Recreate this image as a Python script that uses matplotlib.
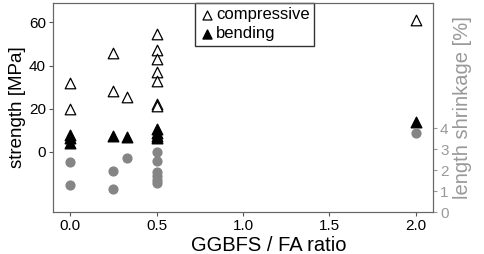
import matplotlib.pyplot as plt

plt.rcParams['font.family'] = ['Liberation Sans', 'DejaVu Sans']

# compressive strength [MPa] vs GGBFS / FA ratio
comp_x = [0.0, 0.0, 0.25, 0.25, 0.33, 0.5, 0.5, 0.5, 0.5, 0.5, 0.5, 0.5, 2.0]
comp_y = [32, 20, 46, 28, 25.5, 54.5, 47, 43, 37, 33, 22, 21, 61]

# bending strength [MPa]
bend_x = [0.0, 0.0, 0.0, 0.25, 0.33, 0.5, 0.5, 0.5, 0.5, 2.0]
bend_y = [7.8, 6.2, 4.2, 7.4, 7.0, 10.6, 8.8, 7.4, 6.5, 13.8]

# length shrinkage [%]
shr_x = [0.0, 0.0, 0.25, 0.25, 0.33, 0.5, 0.5, 0.5, 0.5, 0.5, 0.5, 2.0]
shr_y = [2.38, 1.29, 1.95, 1.1, 2.57, 2.86, 2.43, 1.9, 1.71, 1.52, 1.38, 3.76]

fig, ax = plt.subplots(figsize=(4.84, 2.54), dpi=100)
fig.subplots_adjust(left=0.1095, right=0.895, top=0.988, bottom=0.165)

ax.scatter(comp_x, comp_y, marker='^', s=58, facecolors='white',
           edgecolors='black', linewidths=0.9, label='compressive', zorder=3)
ax.scatter(bend_x, bend_y, marker='^', s=58, color='black',
           label='bending', zorder=3)

ax2 = ax.twinx()
ax2.scatter(shr_x, shr_y, marker='o', s=40, color='#858585', zorder=3)

ax.set_xlim(-0.1, 2.1)
ax.set_ylim(-28, 69)
ax.set_yticks([0, 20, 40, 60])
ax.set_xticks([0.0, 0.5, 1.0, 1.5, 2.0])
ax.set_xticklabels(['0.0', '0.5', '1.0', '1.5', '2.0'])
ax2.set_ylim(0, 10)
ax2.set_yticks([0, 1, 2, 3, 4])

gray = '#999999'
ax.set_xlabel('GGBFS / FA ratio', fontsize=14.5, labelpad=0)
ax.xaxis.set_label_coords(0.567, -0.115)
ax.set_ylabel('strength [MPa]', fontsize=13.5, labelpad=2)
ax2.set_ylabel('length shrinkage [%]', fontsize=14.5, color=gray, labelpad=3)

ax.tick_params(labelsize=11, length=3, color='#555555', pad=2)
ax2.tick_params(labelsize=11, length=3, colors=gray, pad=2)

for a in (ax, ax2):
    for s in a.spines.values():
        s.set_color('#666666')

leg = ax.legend(loc='upper center', bbox_to_anchor=(0.53, 1.0), fontsize=12,
                frameon=True, fancybox=False, edgecolor='black',
                handletextpad=0.1, borderpad=0.25, labelspacing=0.25,
                handlelength=0.9, borderaxespad=0.0, markerscale=0.85)
leg.get_frame().set_linewidth(1.0)

fig.savefig('out.png', dpi=100)
